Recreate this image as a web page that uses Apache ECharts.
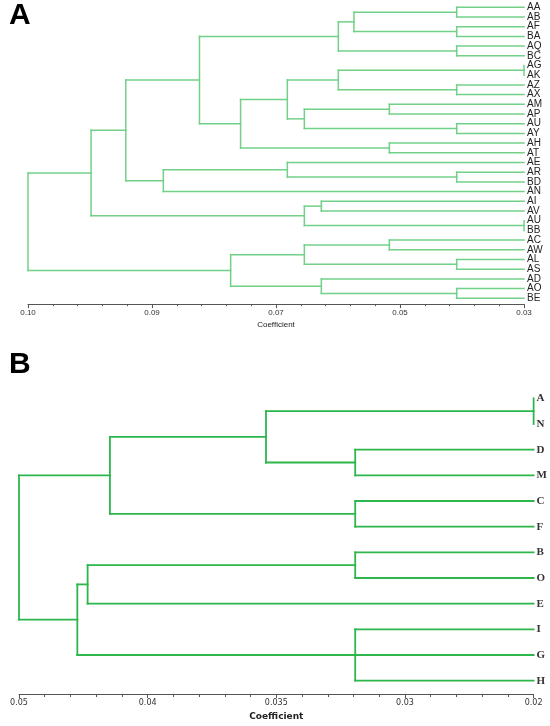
<!DOCTYPE html>
<html>
<head>
<meta charset="utf-8">
<script src="https://cdn.jsdelivr.net/npm/echarts@6/dist/echarts.min.js"></script>
<style>
  html, body { margin: 0; padding: 0; background: #fff; }
  #chart { width: 550px; height: 726px; }
</style>
</head>
<body>
<div id="chart"></div>
<script>
// panel A: leaves from top to bottom
var leavesA = ['AA', 'AB', 'AF', 'BA', 'AQ', 'BC', 'AG', 'AK', 'AZ', 'AX', 'AM', 'AP', 'AU', 'AY', 'AH', 'AT',
    'AE', 'AR', 'BD', 'AN', 'AI', 'AV', 'AU', 'BB', 'AC', 'AW', 'AL', 'AS', 'AD', 'AO', 'BE'];
// merges: [children (leaf index or earlier node id), coefficient]; new node ids start after the leaves
var mergesA = [
    [[0, 1], 0.0395],    // 31
    [[2, 3], 0.0395],    // 32
    [[31, 32], 0.0540],  // 33
    [[4, 5], 0.0395],    // 34
    [[33, 34], 0.0562],  // 35
    [[6, 7], 0.0300],    // 36
    [[8, 9], 0.0395],    // 37
    [[36, 37], 0.0562],  // 38
    [[10, 11], 0.0490],  // 39
    [[12, 13], 0.0395],  // 40
    [[39, 40], 0.0610],  // 41
    [[38, 41], 0.0634],  // 42
    [[14, 15], 0.0490],  // 43
    [[42, 43], 0.0700],  // 44
    [[35, 44], 0.0758],  // 45
    [[17, 18], 0.0395],  // 46
    [[16, 46], 0.0634],  // 47
    [[47, 19], 0.0809],  // 48
    [[45, 48], 0.0862],  // 49
    [[20, 21], 0.0586],  // 50
    [[22, 23], 0.0300],  // 51
    [[50, 51], 0.0610],  // 52
    [[49, 52], 0.0911],  // 53
    [[24, 25], 0.0490],  // 54
    [[26, 27], 0.0395],  // 55
    [[54, 55], 0.0610],  // 56
    [[29, 30], 0.0395],  // 57
    [[28, 57], 0.0586],  // 58
    [[56, 58], 0.0714],  // 59
    [[53, 59], 0.1000]   // 60
];
var ticksA = ['0.10', '0.09', '0.07', '0.05', '0.03']; // printed left to right

// panel B
var leavesB = ['A', 'N', 'D', 'M', 'C', 'F', 'B', 'O', 'E', 'I', 'G', 'H'];
var mergesB = [
    [[0, 1], 0.0200],      // 12
    [[2, 3], 0.0304],      // 13
    [[4, 5], 0.0304],      // 14
    [[12, 13], 0.0356],    // 15
    [[15, 14], 0.0447],    // 16
    [[6, 7], 0.0304],      // 17
    [[17, 8], 0.0460],     // 18
    [[9, 10, 11], 0.0304], // 19
    [[18, 19], 0.0466],    // 20
    [[16, 20], 0.0500]     // 21
];
var ticksB = ['0.05', '0.04', '0.035', '0.03', '0.02'];

// turn merges into line segments [x1, y1, x2, y2] (x = coefficient, y = leaf index)
function treeSegments(leaves, merges, base) {
    var nodes = leaves.map(function(n, i) { return { x: base, y: i }; });
    var segs = [];
    merges.forEach(function(m) {
        var h = m[1];
        var ys = [];
        m[0].forEach(function(k) {
            var c = nodes[k];
            ys.push(c.y);
            segs.push([c.x, c.y, h, c.y]);
        });
        var lo = Math.min.apply(null, ys), hi = Math.max.apply(null, ys);
        segs.push([h, lo, h, hi]);
        nodes.push({ x: h, y: (lo + hi) / 2 });
    });
    return segs;
}

function tickLabel(labels, min, step) {
    return function(v) {
        var i = Math.round((v - min) / step);
        return labels[labels.length - 1 - i] || '';
    };
}

function branchRender(color, width) {
    return function(params, api) {
        var p1 = api.coord([api.value(0), api.value(1)]);
        var p2 = api.coord([api.value(2), api.value(3)]);
        return {
            type: 'line',
            shape: { x1: p1[0], y1: p1[1], x2: p2[0], y2: p2[1] },
            style: { stroke: color, lineWidth: width, lineCap: 'square' }
        };
    };
}

// category axis shows the leaf names, hidden value axis places the branches on the same rows
function leafAxes(grid, leaves, label) {
    return [{
        gridIndex: grid,
        type: 'category',
        data: leaves,
        inverse: true,
        position: 'right',
        axisLine: { show: false, onZero: false },
        axisTick: { show: false },
        splitLine: { show: false },
        axisLabel: label
    }, {
        gridIndex: grid,
        type: 'value',
        min: -0.5,
        max: leaves.length - 0.5,
        inverse: true,
        show: false,
        splitLine: { show: false }
    }];
}

var myChart = echarts.init(document.getElementById('chart'), null, { renderer: 'canvas' });

var option = {
    backgroundColor: '#fff',
    animation: false,
    graphic: [
        { type: 'text', left: 9, top: 1, style: { text: 'A', font: 'bold 30px "Liberation Sans", Arial', fill: '#000' } },
        { type: 'text', left: 9, top: 350, style: { text: 'B', font: 'bold 30px "Liberation Sans", Arial', fill: '#000' } }
    ],
    grid: [
        { left: 28, right: 26, top: 2.45, height: 300.7 },
        { left: 19, right: 16.3, top: 385.5, height: 308 }
    ],
    xAxis: [{
        gridIndex: 0,
        type: 'value',
        min: 0.03,
        max: 0.10,
        interval: 0.0175,
        inverse: true,
        position: 'bottom',
        offset: 1,
        name: 'Coefficient',
        nameLocation: 'middle',
        nameGap: 17,
        nameTextStyle: { fontSize: 8, color: '#222', fontFamily: 'Liberation Sans' },
        axisLine: { onZero: false, lineStyle: { color: '#555', width: 1 } },
        axisTick: { length: 4, lineStyle: { color: '#555' } },
        minorTick: { show: true, splitNumber: 5, length: 2, lineStyle: { color: '#555' } },
        splitLine: { show: false },
        axisLabel: { fontSize: 8, color: '#333', margin: 5, fontFamily: 'Liberation Sans',
            showMinLabel: true, showMaxLabel: true,
            formatter: tickLabel(ticksA, 0.03, 0.0175) }
    }, {
        gridIndex: 1,
        type: 'value',
        min: 0.02,
        max: 0.05,
        interval: 0.0075,
        inverse: true,
        position: 'bottom',
        offset: 0.5,
        name: 'Coefficient',
        nameLocation: 'middle',
        nameGap: 18,
        nameTextStyle: { fontSize: 9, fontWeight: 'bold', color: '#222', fontFamily: 'DejaVu Sans' },
        axisLine: { onZero: false, lineStyle: { color: '#555', width: 1 } },
        axisTick: { length: 4, lineStyle: { color: '#555' } },
        minorTick: { show: true, splitNumber: 5, length: 3, lineStyle: { color: '#555' } },
        splitLine: { show: false },
        axisLabel: { fontSize: 8, color: '#333', margin: 5, fontFamily: 'DejaVu Sans',
            showMinLabel: true, showMaxLabel: true,
            formatter: tickLabel(ticksB, 0.02, 0.0075) }
    }],
    yAxis: leafAxes(0, leavesA, {
        interval: 0, fontSize: 10, color: '#222', margin: 3, fontFamily: 'Liberation Sans'
    }).concat(leafAxes(1, leavesB, {
        interval: 0, fontSize: 11, fontWeight: 'bold', color: '#333', margin: 3, fontFamily: 'Liberation Serif'
    })),
    series: [{
        type: 'custom',
        xAxisIndex: 0,
        yAxisIndex: 1,
        clip: false,
        renderItem: branchRender('#72d088', 1.5),
        encode: { x: [0, 2], y: [1, 3] },
        data: treeSegments(leavesA, mergesA, 0.03)
    }, {
        type: 'custom',
        xAxisIndex: 1,
        yAxisIndex: 3,
        clip: false,
        renderItem: branchRender('#2db64c', 1.8),
        encode: { x: [0, 2], y: [1, 3] },
        data: treeSegments(leavesB, mergesB, 0.02)
    }]
};
myChart.setOption(option);
</script>
</body>
</html>
